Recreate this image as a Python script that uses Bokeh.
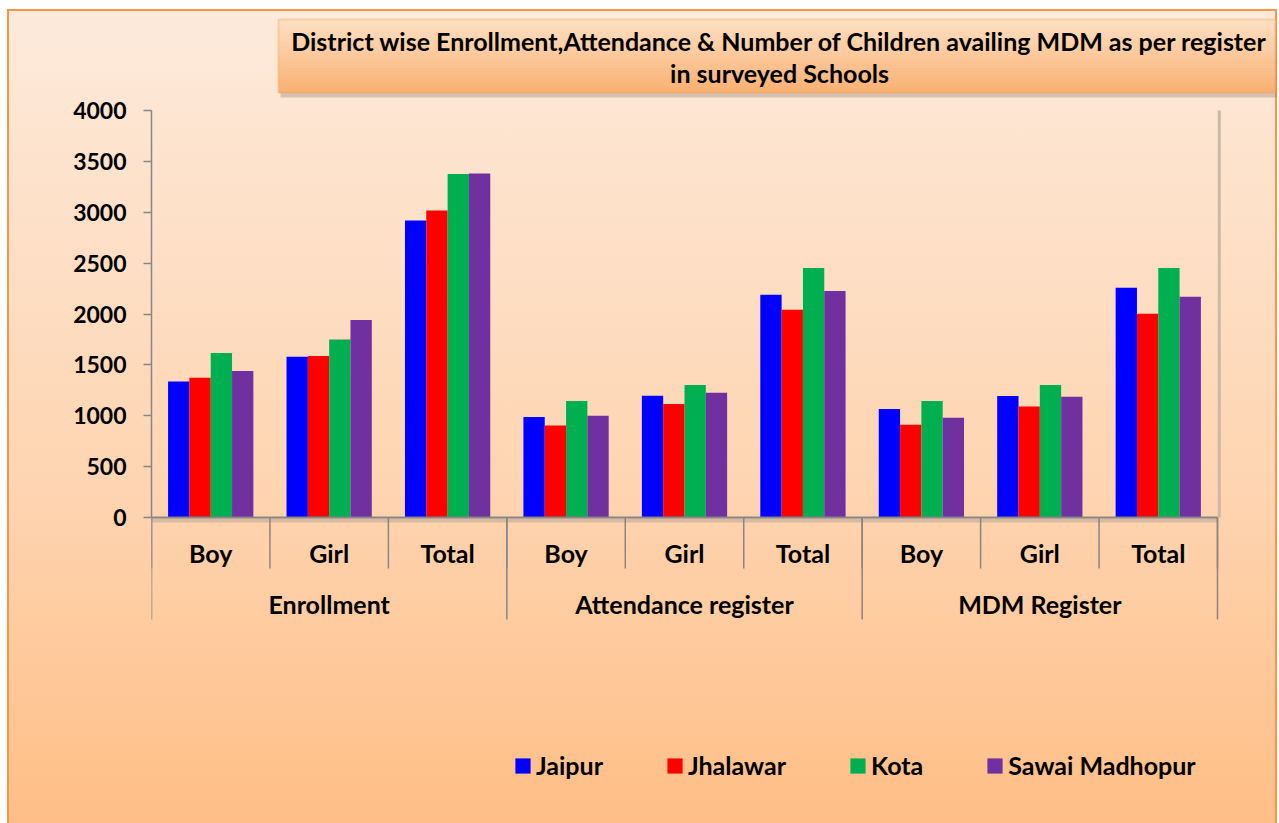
from bokeh.plotting import figure
from bokeh.models import (Range1d, ColumnDataSource, BoxAnnotation,
                          Label, Legend, LegendItem, FixedTicker)
from bokeh.transform import dodge
from bokeh.core.properties import value
from bokeh.embed import file_html
from bokeh.resources import INLINE

# ---------------- data ----------------
groups = ["Enrollment", "Attendance register", "MDM Register"]
subcats = ["Boy", "Girl", "Total"]
districts = ["Jaipur", "Jhalawar", "Kota", "Sawai Madhopur"]
colors = ["#0000FF", "#FF0000", "#00B050", "#7030A0"]

jaipur = [1337, 1580, 2920, 987, 1196, 2190, 1066, 1193, 2258]
jhalawar = [1373, 1587, 3018, 905, 1115, 2042, 911, 1091, 2003]
kota = [1616, 1750, 3376, 1144, 1301, 2452, 1144, 1301, 2452]
sawai_madhopur = [1439, 1941, 3382, 1000, 1226, 2226, 980, 1187, 2170]

y_ticks = [0, 500, 1000, 1500, 2000, 2500, 3000, 3500, 4000]
title_lines = ["District wise Enrollment,Attendance & Number of Children availing MDM as per register",
               "in surveyed Schools"]

# ---------------- layout (page pixel targets) ----------------
OX, OY = 7, 9                 # chart area top-left on the page
W, H = 1270, 814
AX_L, AX_R = 151, 1217        # x extent of the category axis (page px)
Y0_PX, YTOP_PX = 517, 110     # page px of 0 and of 4000
YMAX = 4000
ncat = len(groups) * len(subcats)
pxcat = (AX_R - AX_L) / ncat
ppu = (Y0_PX - YTOP_PX) / YMAX


def xs(px):
    return (px - AX_L) / pxcat


def ys(py):
    return (Y0_PX - py) / ppu


FONT = value("Lato")

p = figure(width=W, height=H, margin=(OY, 0, 0, OX),
           x_range=Range1d(xs(AX_L), xs(OX + W)),
           y_range=Range1d(ys(OY + H), ys(OY)),
           output_backend="svg", toolbar_location=None, x_axis_location=None,
           min_border_left=AX_L - OX, min_border_right=0, min_border_top=0, min_border_bottom=0,
           background_fill_alpha=0, border_fill_alpha=0, outline_line_color=None,
           styles={"background": "linear-gradient(to bottom, #FDEADB 0%, #FED4B0 60%, #FFBE86 100%)",
                   "box-shadow": "inset 2px 0 0 #F79646, inset -2px 0 0 #F79646, inset 0 2px 0 #F79646"})

p.grid.grid_line_color = None
ax = p.yaxis[0]
ax.ticker = FixedTicker(ticks=y_ticks)
ax.bounds = (0, YMAX)
ax.axis_line_color = "#868686"
ax.axis_line_width = 1.5
ax.major_tick_line_color = "#868686"
ax.major_tick_line_width = 1.5
ax.major_tick_in = 0
ax.major_tick_out = 8
ax.minor_tick_line_color = None
ax.major_label_text_font = "Lato"
ax.major_label_text_font_style = "bold"
ax.major_label_text_font_size = "23px"
ax.major_label_text_color = "#000000"
ax.major_label_standoff = 17

# category positions derived from the category lists
cat_labels = [c for g in groups for c in subcats]
cat_x = [i + 0.5 for i in range(ncat)]
group_x = [gi * len(subcats) + len(subcats) / 2 for gi in range(len(groups))]
bounds_all = [float(i) for i in range(ncat + 1)]
bounds_group = [float(gi * len(subcats)) for gi in range(len(groups) + 1)]

# title box (shadow + gradient strips + border)
bx0, bx1, by0, by1 = 278, 1275, 19, 92
p.add_layout(BoxAnnotation(left=xs(bx0 + 2), right=xs(bx1 + 1), top=ys(by0 + 4), bottom=ys(by1 + 5),
                           fill_color="#7f6a5a", fill_alpha=0.3, line_color=None))
ns = 24
c0, c1 = (254, 224, 196), (249, 176, 114)
for i in range(ns):
    t = (i + 0.5) / ns
    col = "#%02X%02X%02X" % tuple(int(round(a + (b - a) * t)) for a, b in zip(c0, c1))
    ya = by0 + (by1 - by0) * i / ns
    yb = by0 + (by1 - by0) * (i + 1) / ns
    p.add_layout(BoxAnnotation(left=xs(bx0), right=xs(bx1), top=ys(ya), bottom=ys(yb + 0.6),
                               fill_color=col, fill_alpha=1, line_color=None))
p.add_layout(BoxAnnotation(left=xs(bx0), right=xs(bx1), top=ys(by0), bottom=ys(by1),
                           fill_alpha=0, line_color="#F79646", line_width=2))
for line, py in zip(title_lines, [40.5, 72]):
    p.add_layout(Label(x=xs(779), y=ys(py), text=line, text_align="center", text_baseline="middle",
                       text_font="Lato", text_font_style="bold", text_font_size="25px",
                       text_color="#000000"))

# bars
src = ColumnDataSource(dict(x=cat_x, jaipur=jaipur, jhalawar=jhalawar, kota=kota,
                            sawai=sawai_madhopur))
keys = ["jaipur", "jhalawar", "kota", "sawai"]
offsets = [-0.27, -0.09, 0.09, 0.27]
rends = []
for k, off, col in zip(keys, offsets, colors):
    r = p.vbar(x=dodge("x", off), top=k, width=0.18, source=src,
               fill_color=col, line_color=None)
    rends.append(r)

# plot area right shadow
p.segment(x0=[bounds_all[-1] + 0.015], x1=[bounds_all[-1] + 0.015], y0=[0], y1=[YMAX],
          line_color="#CBB8A6", line_width=3)

# x axis line and shadow
p.add_layout(BoxAnnotation(left=0, right=bounds_all[-1], top=ys(518), bottom=ys(522),
                           fill_color="#808080", fill_alpha=0.3, line_color=None))
p.segment(x0=[0], x1=[bounds_all[-1]], y0=[0], y1=[0], line_color="#868686", line_width=2)

# category separators
p.segment(x0=bounds_all, x1=bounds_all, y0=[0] * len(bounds_all), y1=[ys(568)] * len(bounds_all),
          line_color="#868686", line_width=1.5)
p.segment(x0=bounds_group, x1=bounds_group, y0=[0] * len(bounds_group),
          y1=[ys(619)] * len(bounds_group), line_color="#868686", line_width=1.5)

# category labels
p.text(x=cat_x, y=[ys(552)] * ncat, text=cat_labels,
       text_align="center", text_baseline="middle", text_font=FONT, text_font_style="bold",
       text_font_size="25px", text_color="#000000")
p.text(x=group_x, y=[ys(603)] * len(groups), text=groups,
       text_align="center", text_baseline="middle", text_font=FONT, text_font_style="bold",
       text_font_size="25px", text_color="#000000")

# legend
legend = Legend(items=[LegendItem(label=d, renderers=[r]) for d, r in zip(districts, rends)],
                orientation="horizontal", location=(513 - AX_L, 43), margin=0, padding=0,
                spacing=62, label_standoff=4, glyph_width=19, glyph_height=19,
                label_text_font="Lato", label_text_font_style="bold", label_text_font_size="25px",
                label_text_color="#000000", background_fill_alpha=0, border_line_color=None)
p.add_layout(legend)

open("out.html", "w").write(file_html(p, INLINE))
